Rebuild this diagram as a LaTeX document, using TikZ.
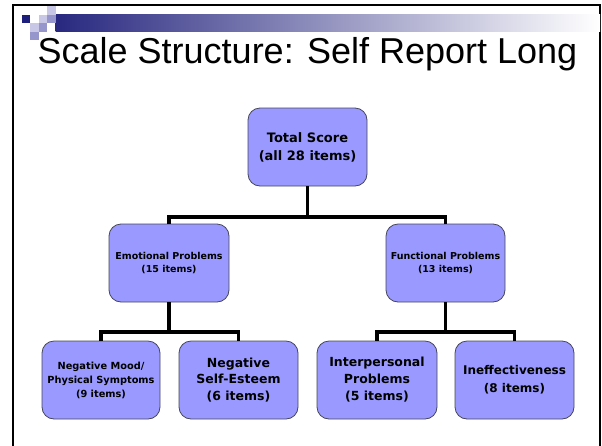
\documentclass[tikz,border=0pt]{standalone}
\usepackage{fontspec}
\setmainfont{Liberation Sans}
\newfontfamily\boxfont{DejaVu Sans}
\definecolor{boxfill}{RGB}{153,153,255}
\definecolor{boxline}{RGB}{70,70,90}
\definecolor{navy}{RGB}{30,30,125}
\definecolor{barnavy}{RGB}{40,40,128}
\definecolor{lightlav}{RGB}{200,200,230}
\definecolor{medlav}{RGB}{150,150,205}
\tikzset{
  x=1pt, y=-1pt,
  box/.style={draw=boxline, line width=0.8pt, fill=boxfill, rounded corners=12pt,
    minimum width=119pt, minimum height=78pt, align=center, inner sep=2pt,
    font=\boxfont\bfseries},
  conn/.style={draw=black, line width=3.5pt},
  frameline/.style={draw=black, line width=2pt},
}
\begin{document}
\begin{tikzpicture}
\useasboundingbox (0,0) rectangle (602,445);
\clip (0,0) rectangle (602,445);
% frame
\draw[frameline] (13,450) -- (13,4.5) -- (600,4.5) -- (600,450);
% gradient bar and checker squares
\shade[left color=barnavy, right color=white, shading angle=90] (55.5,14.5) rectangle (600,31.5);
\fill[navy] (21.5,14.5) rectangle (30,23);
\fill[lightlav] (47,6) rectangle (55.5,14.5);
\fill[lightlav] (38.5,14.5) rectangle (47,23);
\fill[medlav] (47,14.5) rectangle (55.5,23);
\fill[lightlav] (30,23) rectangle (38.5,31.5);
\fill[medlav] (38.5,23) rectangle (47,31.5);
\fill[medlav] (30,31.5) rectangle (38.5,40);
% title
\node[anchor=base west, inner sep=0pt, font=\fontsize{36}{40}\selectfont] (title) at (37.5,63) {Scale Structure: Self Report Long};
% boxes
\node[box, font=\boxfont\bfseries\fontsize{13}{18}\selectfont] (total) at (307.5,147) {Total Score\\(all 28 items)};
\node[box, minimum width=120pt, font=\boxfont\bfseries\fontsize{9.5}{13}\selectfont] (emo) at (169,263) {Emotional Problems\\(15 items)};
\node[box, font=\boxfont\bfseries\fontsize{9.5}{13}\selectfont] (fun) at (445.5,263) {Functional Problems\\(13 items)};
\node[box, minimum width=118pt, font=\boxfont\bfseries\fontsize{9.8}{14}\selectfont] (b1) at (101,380) {Negative Mood/\\Physical Symptoms\\(9 items)};
\node[box, font=\boxfont\bfseries\fontsize{12.5}{16.5}\selectfont] (b2) at (238.5,380) {Negative\\Self-Esteem\\(6 items)};
\node[box, minimum width=120pt, font=\boxfont\bfseries\fontsize{12.5}{17}\selectfont] (b3) at (377,380) {Interpersonal\\Problems\\(5 items)};
\node[box, font=\boxfont\bfseries\fontsize{12}{18}\selectfont] (b4) at (514.5,380) {Ineffectiveness\\(8 items)};
% junctions
\coordinate (j1) at (307.5,217);
\coordinate (j2) at (169,332);
\coordinate (j3) at (445.5,332);
% connectors
\draw[conn] (total.south) -- (j1);
\draw[conn] (emo.north) |- (j1) -| (fun.north);
\draw[conn] (emo.south) -- (j2);
\draw[conn] (b1.north) |- (j2) -| (b2.north);
\draw[conn] (fun.south) -- (j3);
\draw[conn] (b3.north) |- (j3) -| (b4.north);
\end{tikzpicture}
\end{document}
